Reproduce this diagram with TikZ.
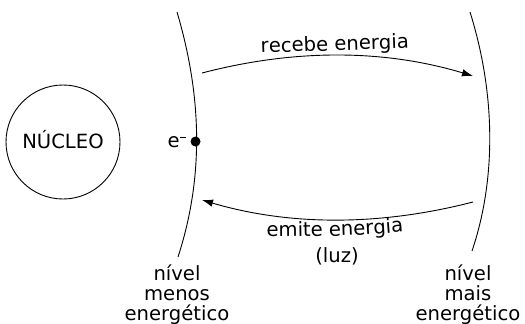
\documentclass[tikz,border=0pt]{standalone}
\usepackage{fontspec}
\setmainfont{DejaVu Sans}
\usetikzlibrary{arrows.meta,decorations.text}
\newcommand\lblfont{\fontsize{19.6}{20}\selectfont}
\tikzset{
  level/.style={line width=0.9pt},
  trans/.style={line width=0.9pt,-{Latex[length=11pt,width=7.5pt]}},
  lbl/.style={font=\lblfont,inner sep=0pt,align=center},
}
\begin{document}
\begin{tikzpicture}[x=1pt,y=-1pt]
\useasboundingbox (0,0) rectangle (525,324);
% nucleus
\node[draw,circle,line width=0.9pt,minimum size=114pt,inner sep=0pt] (nuc) at (63,142) {};
\node[lbl,anchor=base] (nuctext) at (63,148) {NÚCLEO};
% levels
\coordinate (l1a) at (177,12);
\coordinate (l1b) at (178,257);
\draw[level] (l1a) .. controls (203,100) and (203,180) .. (l1b);
\coordinate (l2a) at (470,12);
\coordinate (l2b) at (472,251);
\draw[level] (l2a) .. controls (496,95) and (496,180) .. (l2b);
% electron
\node[circle,fill=black,minimum size=10pt,inner sep=0pt] (el) at (195.5,141.5) {};
\node[lbl,anchor=base] (eltext) at (177,147) {e\kern0.5pt\rule[9pt]{6pt}{1.2pt}};
% transitions
\coordinate (upS) at (202,73);
\coordinate (upE) at (473,76);
\draw[trans] (upS) .. controls (290,50) and (380,48) .. (upE);
\coordinate (dnS) at (473,202);
\coordinate (dnE) at (202,200);
\draw[trans] (dnS) .. controls (380,226) and (290,226) .. (dnE);
% curved labels
\path[decorate,decoration={text along path,text align=center,
  text={|\lblfont|recebe energia}}]
  (236,54) .. controls (300,51) and (370,50) .. (434,47);
\path[decorate,decoration={text along path,text align=center,
  text={|\lblfont|emite energia}}]
  (236,237) .. controls (320,237) and (370,236) .. (434,229);
\node[lbl,anchor=base] (luz) at (337,262) {(luz)};
% level names
\node[lbl,anchor=base] (n1) at (177,320) {nível\\menos\\energético};
\node[lbl,anchor=base] (n2) at (468,320) {nível\\mais\\energético};
\end{tikzpicture}
\end{document}
